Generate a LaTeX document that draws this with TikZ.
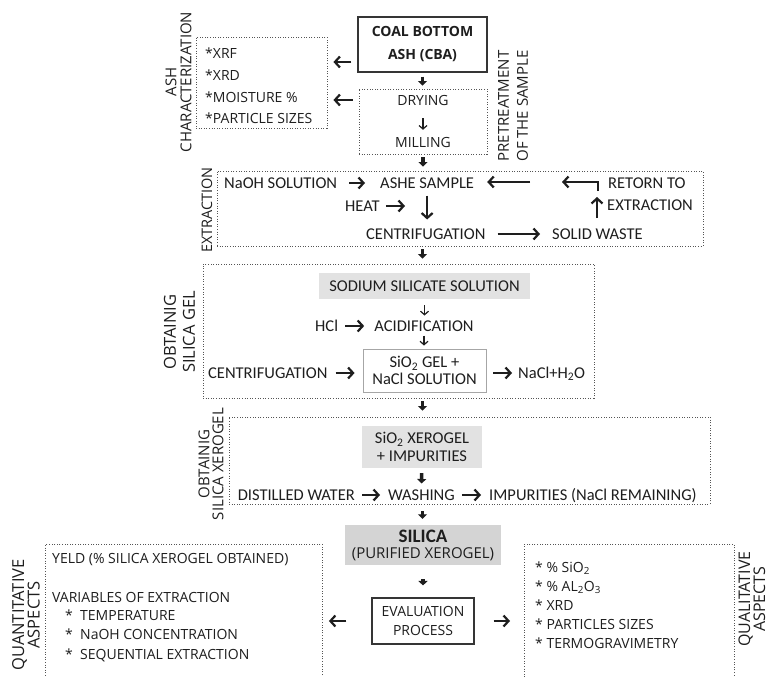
\documentclass[tikz,border=0pt]{standalone}
\usepackage{fontspec}
\setmainfont{Carlito}
\newfontfamily\osans{Open Sans}
\usetikzlibrary{arrows.meta,positioning}
\definecolor{ink}{RGB}{30,30,30}
\definecolor{dotgray}{RGB}{85,85,85}
\definecolor{shade}{RGB}{226,226,226}
\definecolor{shadedark}{RGB}{212,212,212}

\begin{document}
\begin{tikzpicture}[
    x=1pt, y=-1pt,
    txt/.style={inner sep=0pt, text=ink, font=\fontsize{16.5}{19}\selectfont, text height=10.6pt, text depth=0pt},
    otxt/.style={inner sep=0pt, text=ink, font=\osans\fontsize{14}{21}\selectfont, text height=10pt, text depth=0pt},
    dotbox/.style={draw=dotgray, line width=0.9pt, dash pattern=on 1pt off 1.6pt, inner sep=0pt},
    greybox/.style={fill=shade, inner sep=0pt, align=center, text=ink},
    sidelabel/.style={rotate=90, align=center, text=ink, inner sep=0pt},
    arrow/.style={-{Straight Barb[length=5pt, width=11pt]}, line width=2.2pt, draw=ink},
    thinarrow/.style={-{Straight Barb[length=3.5pt, width=8pt]}, line width=1.2pt, draw=ink},
    blockarrow/.style={-{Triangle[length=4.5pt, width=9pt]}, line width=3.5pt, draw=ink},
    gap/.style 2 args={shorten <=#1, shorten >=#2}
]
\fill[white] (0,0) rectangle (771,677);
\useasboundingbox (0,0) rectangle (771,677);
\clip (0,0) rectangle (771,677);

% Pretreatment
\node[draw=ink!90, line width=1.3pt, minimum width=129pt, minimum height=55pt, inner sep=0pt, align=center, text=ink, font=\osans\bfseries\fontsize{14}{23}\selectfont] (cba) at (422.5,44.5) {COAL BOTTOM\\ASH (CBA)};
\node[dotbox, minimum width=128pt, minimum height=65pt] (pretreat) at (423,121.5) {};
\node[otxt] (drying) at (423,101) {DRYING};
\node[otxt] (milling) at (423,142) {MILLING};
\node[dotbox, minimum width=131pt, minimum height=91pt] (charbox) at (261.5,82.5) {};
\node[otxt, anchor=west] (xrf) at (205,54) {*XRF};
\node[otxt, anchor=west] (xrd) at (205,76) {*XRD};
\node[otxt, anchor=west] (moist) at (205,97) {*MOISTURE \%};
\node[otxt, anchor=west] (psizes) at (205,118) {*PARTICLE SIZES};

\draw[blockarrow, gap={4pt}{3pt}] (cba.south) -- (cba.south |- pretreat.north);
\draw[thinarrow, gap={12pt}{7pt}] (drying) -- (milling);
\draw[arrow, gap={6pt}{6pt}] ([yshift=-17.5pt]cba.west) -- ([yshift=-17.5pt]cba.west -| charbox.east);
\draw[arrow, gap={6pt}{6pt}] ([yshift=21.5pt]pretreat.west) -- ([yshift=21.5pt]pretreat.west -| charbox.east);

% Extraction
\node[dotbox, minimum width=486pt, minimum height=75pt] (extract) at (460,208.5) {};
\node[txt, anchor=west] (naoh) at (224,183) {NaOH SOLUTION};
\node[txt, anchor=west] (ashe) at (380,183) {ASHE SAMPLE};
\node[txt, anchor=west] (heat) at (345,206) {HEAT};
\node[txt, anchor=west] (centri) at (366,234) {CENTRIFUGATION};
\node[txt, anchor=west] (waste) at (552,234) {SOLID WASTE};
\node[txt, anchor=west] (retorn) at (608,183) {RETORN TO};
\node[txt, anchor=west] (retext) at (607,205) {EXTRACTION};
\coordinate (backin) at (530,182);
\coordinate (hooktop) at (598,191);
\coordinate (hookend) at (562,182);
\coordinate (upfoot) at (597,218);
\coordinate (uptip) at (597,197);
\coordinate (heatin) at (427,206);

\draw[blockarrow, gap={3pt}{4pt}] (pretreat.south) -- (pretreat.south |- extract.north);
\draw[arrow, gap={12pt}{15pt}] (naoh) -- (ashe);
\draw[arrow, gap={0pt}{13pt}] (backin) -- (backin -| ashe.east);
\draw[arrow] (hooktop) |- (hookend);
\draw[arrow] (upfoot) -- (uptip);
\draw[arrow, gap={6pt}{22pt}] (heat) -- (heatin);
\draw[arrow, gap={7pt}{9pt}] (ashe.south) -- (ashe.south |- centri.north);
\draw[arrow, gap={12pt}{12pt}] (centri) -- (waste);

% Silica gel
\node[dotbox, minimum width=391pt, minimum height=134pt] (gelbox) at (398.5,331) {};
\node[greybox, minimum width=211pt, minimum height=26pt, font=\fontsize{16.5}{19}\selectfont] (sodium) at (424.5,286) {SODIUM SILICATE SOLUTION};
\node[txt] (acid) at (424,326) {ACIDIFICATION};
\node[txt, anchor=west] (hcl) at (315,326) {HCl};
\node[draw=gray!70, line width=0.9pt, minimum width=123pt, minimum height=43pt, inner sep=0pt, align=center, text=ink, font=\fontsize{16.5}{17}\selectfont] (gel) at (424.5,370.5) {SiO\textsubscript{2} GEL +\\NaCl SOLUTION};
\node[txt, anchor=west] (centri2) at (208,373) {CENTRIFUGATION};
\node[txt, anchor=west] (nacl) at (518,373) {NaCl+H\textsubscript{2}O};

\draw[blockarrow, gap={3pt}{5pt}] (extract.south -| cba) -- (gelbox.north -| cba);
\draw[thinarrow, gap={6pt}{5pt}] (sodium.south) -- (sodium.south |- acid.north);
\draw[arrow, gap={7pt}{10pt}] (hcl) -- (acid);
\draw[thinarrow, gap={4pt}{3pt}] (acid.south) -- (acid.south |- gel.north);
\draw[arrow, gap={8pt}{8pt}] (centri2) -- (centri2 -| gel.west);
\draw[arrow, gap={7pt}{6pt}] (gel.east |- nacl) -- (nacl);

% Silica xerogel
\node[dotbox, minimum width=481pt, minimum height=87pt] (xerobox) at (469.5,460.5) {};
\node[greybox, minimum width=120pt, minimum height=42pt, font=\fontsize{16.5}{18}\selectfont] (impure) at (422,447) {SiO\textsubscript{2} XEROGEL\\+ IMPURITIES};
\node[txt] (wash) at (421.5,495) {WASHING};
\node[txt, anchor=east] (water) at (355,495) {DISTILLED WATER};
\node[txt, anchor=west] (nacl2) at (489,495) {IMPURITIES (NaCl REMAINING)};

\draw[blockarrow, gap={3pt}{6pt}] (gelbox.south -| cba) -- (xerobox.north -| cba);
\draw[blockarrow, gap={5pt}{6pt}] (impure) -- (wash);
\draw[arrow, gap={7pt}{8pt}] (water) -- (wash);
\draw[arrow, gap={7pt}{8pt}] (wash) -- (nacl2);

% Evaluation
\node[greybox, fill=shadedark, minimum width=156pt, minimum height=40pt] (silica) at (423,545) {{\fontsize{19}{19}\selectfont\bfseries SILICA}\\[4pt]{\osans\fontsize{15}{17}\selectfont (PURIFIED XEROGEL)}};
\node[draw=ink!90, line width=1.1pt, minimum width=102pt, minimum height=46pt, inner sep=0pt, align=center, text=ink, font=\osans\fontsize{14}{19}\selectfont] (eval) at (423,621) {EVALUATION\\PROCESS};
\node[dotbox, minimum width=277pt, minimum height=150pt, anchor=north west] (quant) at (45,544) {};
\node[otxt, anchor=west] (yeld) at (52,558) {YELD (\% SILICA XEROGEL OBTAINED)};
\node[otxt, anchor=west] (vars) at (52,597) {VARIABLES OF EXTRACTION};
\node[otxt, anchor=west] (temp) at (65,615) {*\ \ TEMPERATURE};
\node[otxt, anchor=west] (conc) at (65,634) {*\ \ NaOH CONCENTRATION};
\node[otxt, anchor=west] (seq) at (65,654) {*\ \ SEQUENTIAL EXTRACTION};
\node[dotbox, minimum width=210pt, minimum height=150pt, anchor=north west] (qual) at (524,544) {};
\node[otxt, anchor=west] (sio) at (535,567) {* \% SiO\textsubscript{2}};
\node[otxt, anchor=west] (alo) at (535,586) {* \% AL\textsubscript{2}O\textsubscript{3}};
\node[otxt, anchor=west] (xrdq) at (535,605) {* XRD};
\node[otxt, anchor=west] (psize) at (535,624) {* PARTICLES SIZES};
\node[otxt, anchor=west] (tga) at (535,643) {* TERMOGRAVIMETRY};

\draw[blockarrow, gap={7pt}{6pt}] (xerobox.south -| cba) -- (silica.north -| cba);
\draw[blockarrow, gap={14pt}{12pt}] (silica) -- (eval);
\draw[arrow, gap={25pt}{6pt}] (eval.west) -- (eval.west -| quant.east);
\draw[arrow, gap={19pt}{14pt}] (eval.east) -- (eval.east -| qual.west);

% Labels
\node[sidelabel, font=\osans\fontsize{15}{15}\selectfont] (charlabel) at (178.5,82) {ASH\\CHARACTERIZATION};
\node[sidelabel, font=\osans\fontsize{15}{19}\selectfont] (pretlabel) at (513,106) {PRETREATMENT\\OF THE SAMPLE};
\node[sidelabel, font=\osans\fontsize{14.5}{15}\selectfont] (extlabel) at (207,210) {EXTRACTION};
\node[sidelabel, font=\osans\fontsize{16.5}{19}\selectfont] (gellabel) at (179.5,332) {OBTAINIG\\SILICA GEL};
\node[sidelabel, font=\osans\fontsize{15}{14}\selectfont] (xerolabel) at (211,464) {OBTAINIG\\SILICA XEROGEL};
\node[sidelabel, font=\osans\fontsize{16.5}{15.5}\selectfont] (quantlabel) at (26,615) {QUANTITATIVE\\ASPECTS};
\node[sidelabel, font=\osans\fontsize{16}{15}\selectfont] (quallabel) at (752,599) {QUALITATIVE\\ASPECTS};

\end{tikzpicture}
\end{document}
